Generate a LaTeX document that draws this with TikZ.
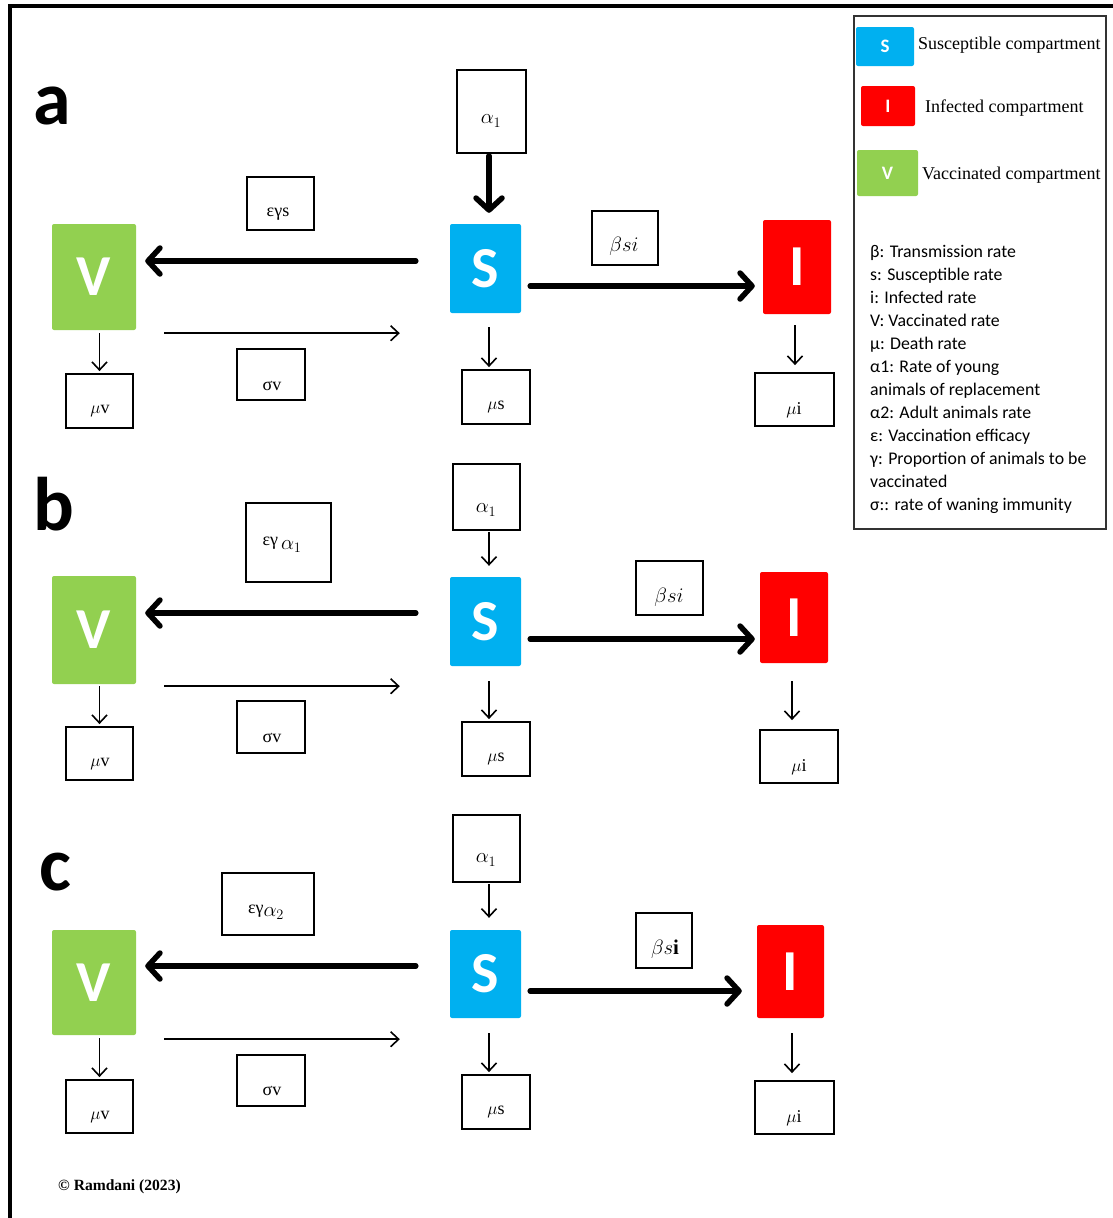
\documentclass[tikz,border=0pt]{standalone}
\usepackage{fontspec}
\setmainfont{Liberation Serif}
\newfontfamily\calfont{Carlito}
\usetikzlibrary{arrows.meta}

\definecolor{scol}{HTML}{00B0F0}
\definecolor{icol}{HTML}{FF0000}
\definecolor{vcol}{HTML}{92D050}

\tikzset{
  comp/.style={rectangle, rounded corners=2pt, inner sep=0pt, text=white,
    font=\calfont\bfseries\fontsize{58}{58}\selectfont},
  swatch/.style={comp, font=\calfont\bfseries\fontsize{19}{19}\selectfont},
  rbox/.style={draw, line width=1.8pt, inner sep=0pt},
  lbl/.style={inner sep=0pt, font=\fontsize{18}{18}\selectfont},
  mlbl/.style={inner sep=0pt, font=\fontsize{21}{21}\selectfont},
  panel/.style={inner sep=0pt, font=\calfont\bfseries\fontsize{76}{76}\selectfont},
  thk/.style={line width=5.5pt, line cap=round,
    -{Straight Barb[length=12pt,width=26pt,line cap=round,line join=round]}},
  thn/.style={line width=1.6pt, -{Straight Barb[length=8pt,width=15pt]}},
  legtxt/.style={anchor=west, inner sep=0pt, font=\fontsize{18}{18}\selectfont},
}

\begin{document}
\begin{tikzpicture}[x=1pt,y=-1pt]
\useasboundingbox (0,0) rectangle (1113,1218);

% outer frame (left and top sides)
\coordinate (frBL) at (10,1218);
\coordinate (frTL) at (10,6);
\coordinate (frTR) at (1113,6);
\draw[line width=4pt] (frBL) -- (frTL) -- (frTR);

% ---------------- panel a ----------------
\node[panel] (pa) at (52,106) {a};
\node[comp, fill=scol, minimum width=71pt, minimum height=89pt] (SA) at (485.5,268.5) {S};
\node[comp, fill=vcol, minimum width=84pt, minimum height=106pt] (VA) at (94,277) {V};
\node[comp, fill=icol, minimum width=68pt, minimum height=94pt] (IA) at (797,267) {I};
\node[rbox, minimum width=69pt, minimum height=83pt] (alA) at (491.5,111.5) {};
\node[mlbl] (alAt) at (491,121) {$\alpha_1$};
\node[rbox, minimum width=67pt, minimum height=53pt] (egA) at (280.5,203.5) {};
\node[lbl] (egAt) at (278,214) {εγs};
\node[rbox, minimum width=66pt, minimum height=54pt] (bsA) at (625,238) {};
\node[mlbl] (bsAt) at (624,246) {$\beta si$};
\node[rbox, minimum width=68pt, minimum height=51pt] (svA) at (271,374.5) {};
\node[lbl] (svAt) at (272,386) {σv};
\node[rbox, minimum width=67pt, minimum height=54pt] (mvA) at (99.5,401) {};
\node[lbl] (mvAt) at (100,411) {$\mu$v};
\node[rbox, minimum width=68pt, minimum height=54pt] (msA) at (496,397) {};
\node[lbl] (msAt) at (496,407) {$\mu$s};
\node[rbox, minimum width=79pt, minimum height=53pt] (miA) at (794.5,399.5) {};
\node[lbl] (miAt) at (794,410) {$\mu$i};

\draw[thk, shorten <=2pt, shorten >=11pt] ([xshift=-2.5pt]alA.south) -- ([xshift=-2.5pt]alA.south |- SA.north);
\draw[thk, shorten <=34pt, shorten >=9pt] ([yshift=7.5pt]SA.west) -- ([yshift=7.5pt]SA.west -| VA.east);
\draw[thn, shorten <=28pt, shorten >=50pt] ([yshift=-3pt]VA.south east) -- ([yshift=-3pt]VA.south east -| SA.west);
\draw[thk, shorten <=9pt, shorten >=8pt] ([yshift=-17.5pt]SA.east) -- ([yshift=-17.5pt]SA.east -| IA.west);
\draw[thn, shorten <=3pt, shorten >=2pt] (mvA.north |- VA.south) -- (mvA.north);
\draw[thn, shorten <=14pt, shorten >=2pt] ([xshift=3.5pt]SA.south) -- ([xshift=3.5pt]SA.south |- msA.north);
\draw[thn, shorten <=11pt, shorten >=7pt] ([xshift=-2pt]IA.south) -- ([xshift=-2pt]IA.south |- miA.north);

% ---------------- panel b ----------------
\node[panel] (pb) at (54,504) {b};
\node[comp, fill=scol, minimum width=71pt, minimum height=89pt] (SB) at (485.5,621.5) {S};
\node[comp, fill=vcol, minimum width=84pt, minimum height=108pt] (VB) at (94,630) {V};
\node[comp, fill=icol, minimum width=68pt, minimum height=91pt] (IB) at (794,617.5) {I};
\node[rbox, minimum width=67pt, minimum height=66pt] (alB) at (486.5,497) {};
\node[mlbl] (alBt) at (486,510) {$\alpha_1$};
\node[rbox, minimum width=85pt, minimum height=79pt] (egB) at (288.5,542.5) {};
\node[lbl] (egBt) at (282,545) {\raisebox{4pt}{εγ}\,{\fontsize{21}{21}\selectfont$\alpha_1$}};
\node[rbox, minimum width=67pt, minimum height=54pt] (bsB) at (669.5,588) {};
\node[mlbl] (bsBt) at (669,597) {$\beta si$};
\node[rbox, minimum width=68pt, minimum height=52pt] (svB) at (271,727) {};
\node[lbl] (svBt) at (272,738) {σv};
\node[rbox, minimum width=67pt, minimum height=53pt] (mvB) at (99.5,753.5) {};
\node[lbl] (mvBt) at (100,764) {$\mu$v};
\node[rbox, minimum width=68pt, minimum height=54pt] (msB) at (496,749) {};
\node[lbl] (msBt) at (496,759) {$\mu$s};
\node[rbox, minimum width=78pt, minimum height=53pt] (miB) at (799,756.5) {};
\node[lbl] (miBt) at (799,767) {$\mu$i};

\draw[thn, shorten <=1pt, shorten >=11pt] ([xshift=2.5pt]alB.south) -- ([xshift=2.5pt]alB.south |- SB.north);
\draw[thk, shorten <=34pt, shorten >=9pt] ([yshift=8.5pt]SB.west) -- ([yshift=8.5pt]SB.west -| VB.east);
\draw[thn, shorten <=28pt, shorten >=50pt] ([yshift=-2pt]VB.south east) -- ([yshift=-2pt]VB.south east -| SB.west);
\draw[thk, shorten <=9pt, shorten >=5pt] ([yshift=-17.5pt]SB.east) -- ([yshift=-17.5pt]SB.east -| IB.west);
\draw[thn, shorten <=2pt, shorten >=2pt] (mvB.north |- VB.south) -- (mvB.north);
\draw[thn, shorten <=15pt, shorten >=2pt] ([xshift=3.5pt]SB.south) -- ([xshift=3.5pt]SB.south |- msB.north);
\draw[thn, shorten <=18pt, shorten >=9pt] ([xshift=-2pt]IB.south) -- ([xshift=-2pt]IB.south |- miB.north);

% ---------------- panel c ----------------
\node[panel] (pc) at (55,872) {c};
\node[comp, fill=scol, minimum width=71pt, minimum height=88pt] (SC) at (485.5,974) {S};
\node[comp, fill=vcol, minimum width=84pt, minimum height=105pt] (VC) at (94,982.5) {V};
\node[comp, fill=icol, minimum width=67pt, minimum height=93pt] (IC) at (790.5,971.5) {I};
\node[rbox, minimum width=67pt, minimum height=67pt] (alC) at (486.5,848.5) {};
\node[mlbl] (alCt) at (486,860) {$\alpha_1$};
\node[rbox, minimum width=92pt, minimum height=62pt] (egC) at (268,904) {};
\node[lbl] (egCt) at (266,912) {\raisebox{3pt}{εγ}{\fontsize{21}{21}\selectfont$\alpha_2$}};
\node[rbox, minimum width=56pt, minimum height=55pt] (bsC) at (664,940.5) {};
\node[mlbl] (bsCt) at (665,949) {$\beta s\mathbf{i}$};
\node[rbox, minimum width=68pt, minimum height=51pt] (svC) at (271,1080.5) {};
\node[lbl] (svCt) at (272,1091) {σv};
\node[rbox, minimum width=67pt, minimum height=53pt] (mvC) at (99.5,1106.5) {};
\node[lbl] (mvCt) at (100,1117) {$\mu$v};
\node[rbox, minimum width=68pt, minimum height=54pt] (msC) at (496,1102) {};
\node[lbl] (msCt) at (496,1112) {$\mu$s};
\node[rbox, minimum width=79pt, minimum height=53pt] (miC) at (794.5,1107.5) {};
\node[lbl] (miCt) at (794,1118) {$\mu$i};

\draw[thn, shorten <=1pt, shorten >=12pt] ([xshift=2.5pt]alC.south) -- ([xshift=2.5pt]alC.south |- SC.north);
\draw[thk, shorten <=34pt, shorten >=9pt] ([yshift=8pt]SC.west) -- ([yshift=8pt]SC.west -| VC.east);
\draw[thn, shorten <=28pt, shorten >=50pt] ([yshift=-4pt]VC.south east) -- ([yshift=-4pt]VC.south east -| SC.west);
\draw[thk, shorten <=9pt, shorten >=15pt] ([yshift=-17pt]SC.east) -- ([yshift=-17pt]SC.east -| IC.west);
\draw[thn, shorten <=3pt, shorten >=2pt] (mvC.north |- VC.south) -- (mvC.north);
\draw[thn, shorten <=15pt, shorten >=2pt] ([xshift=3.5pt]SC.south) -- ([xshift=3.5pt]SC.south |- msC.north);
\draw[thn, shorten <=15pt, shorten >=7pt] ([xshift=1.5pt]IC.south) -- ([xshift=1.5pt]IC.south |- miC.north);

% ---------------- legend ----------------
\node[draw=black!80, line width=1.2pt, minimum width=252pt, minimum height=513pt, inner sep=0pt] (leg) at (980,272.5) {};
\node[swatch, fill=scol, minimum width=58pt, minimum height=39pt] (lgS) at (885,46.5) {S};
\node[swatch, fill=icol, minimum width=54pt, minimum height=40pt] (lgI) at (888,106) {I};
\node[swatch, fill=vcol, minimum width=61pt, minimum height=46pt] (lgV) at (887.5,173) {V};
\node[legtxt] (lgSt) at (918,45) {Susceptible compartment};
\node[legtxt] (lgIt) at (925,108) {Infected compartment};
\node[legtxt] (lgVt) at (922,175) {Vaccinated compartment};
\node[anchor=base west, inner sep=0pt, align=left, font=\calfont\fontsize{17.8}{23}\selectfont] (lgList) at (870,510)
  {β: Transmission rate\\ s: Susceptible rate\\ i: Infected rate\\ V: Vaccinated rate\\ μ: Death rate\\
   α1: Rate of young\\ animals of replacement\\ α2: Adult animals rate\\ ε: Vaccination efficacy\\
   γ: Proportion of animals to be\\ vaccinated\\ σ:: rate of waning immunity};

% credit line
\node[anchor=west, inner sep=0pt, font=\bfseries\fontsize{15.6}{15.6}\selectfont] (credit) at (58,1187) {© Ramdani (2023)};
\end{tikzpicture}
\end{document}
